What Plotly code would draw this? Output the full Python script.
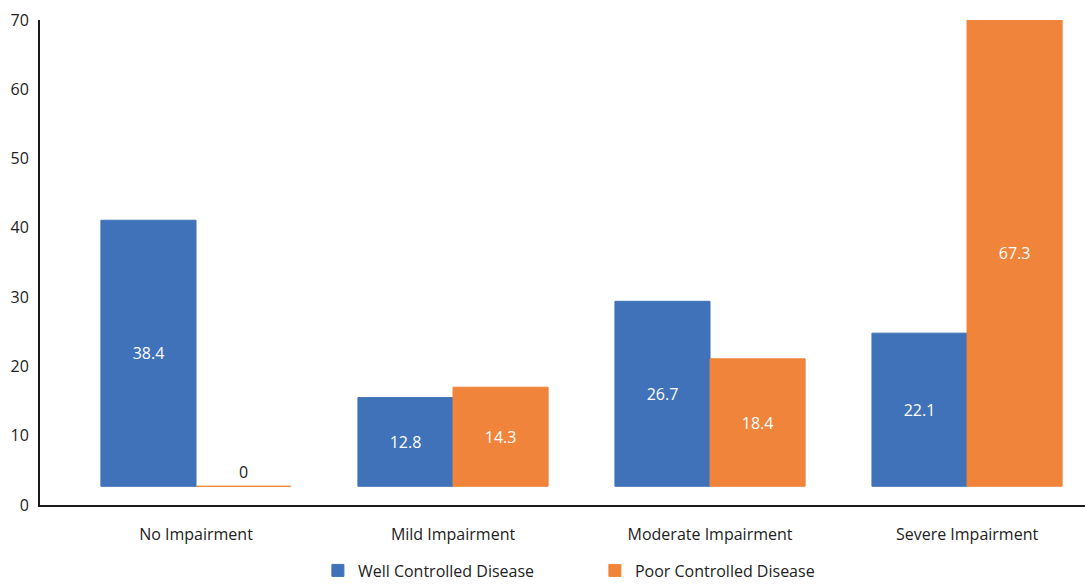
import plotly.graph_objects as go

categories = ["No Impairment", "Mild Impairment", "Moderate Impairment", "Severe Impairment"]
well_controlled = [38.4, 12.8, 26.7, 22.1]
poor_controlled = [0, 14.3, 18.4, 67.3]
y_ticks = [0, 10, 20, 30, 40, 50, 60, 70]

BASE = 2.7
BLUE = "#3F72B8"
ORANGE = "#F0843B"
FONT = "Open Sans"

fig = go.Figure()
for name, vals, col in [("Well Controlled Disease", well_controlled, BLUE),
                        ("Poor Controlled Disease", poor_controlled, ORANGE)]:
    fig.add_trace(go.Bar(
        name=name, x=categories, y=vals, base=BASE,
        marker=dict(color=col, line=dict(color=col, width=1)),
        text=[f"{v:g}" for v in vals],
        textposition=["outside" if v == 0 else "inside" for v in vals],
        insidetextanchor="middle",
        insidetextfont=dict(color="white", size=16, family=FONT),
        outsidetextfont=dict(color="#222222", size=16, family=FONT),
        cliponaxis=False,
    ))

fig.update_layout(
    width=1085, height=584,
    margin=dict(l=40, r=0, t=20, b=79, autoexpand=False),
    paper_bgcolor="white", plot_bgcolor="white",
    barmode="group", bargap=0.26, bargroupgap=0.0,
    font=dict(family=FONT, size=16, color="#222222"),
    showlegend=True,
    legend=dict(orientation="h", x=0.531, xanchor="center", y=-0.1, yanchor="top",
                entrywidth=232, entrywidthmode="pixels", itemwidth=30,
                font=dict(size=16, family=FONT), traceorder="normal"),
    xaxis=dict(range=[-0.607, 3.459], showline=True, linecolor="#1a1a1a", linewidth=2,
               ticks="", showgrid=False, zeroline=False, tickfont=dict(size=16),
               ticklabelstandoff=14),
    yaxis=dict(range=[0, 70], tickvals=y_ticks, showline=True, linecolor="#1a1a1a",
               linewidth=2, ticks="", showgrid=False, zeroline=False,
               tickfont=dict(size=16), ticklabelstandoff=6),
)

fig.write_html("out.html")
